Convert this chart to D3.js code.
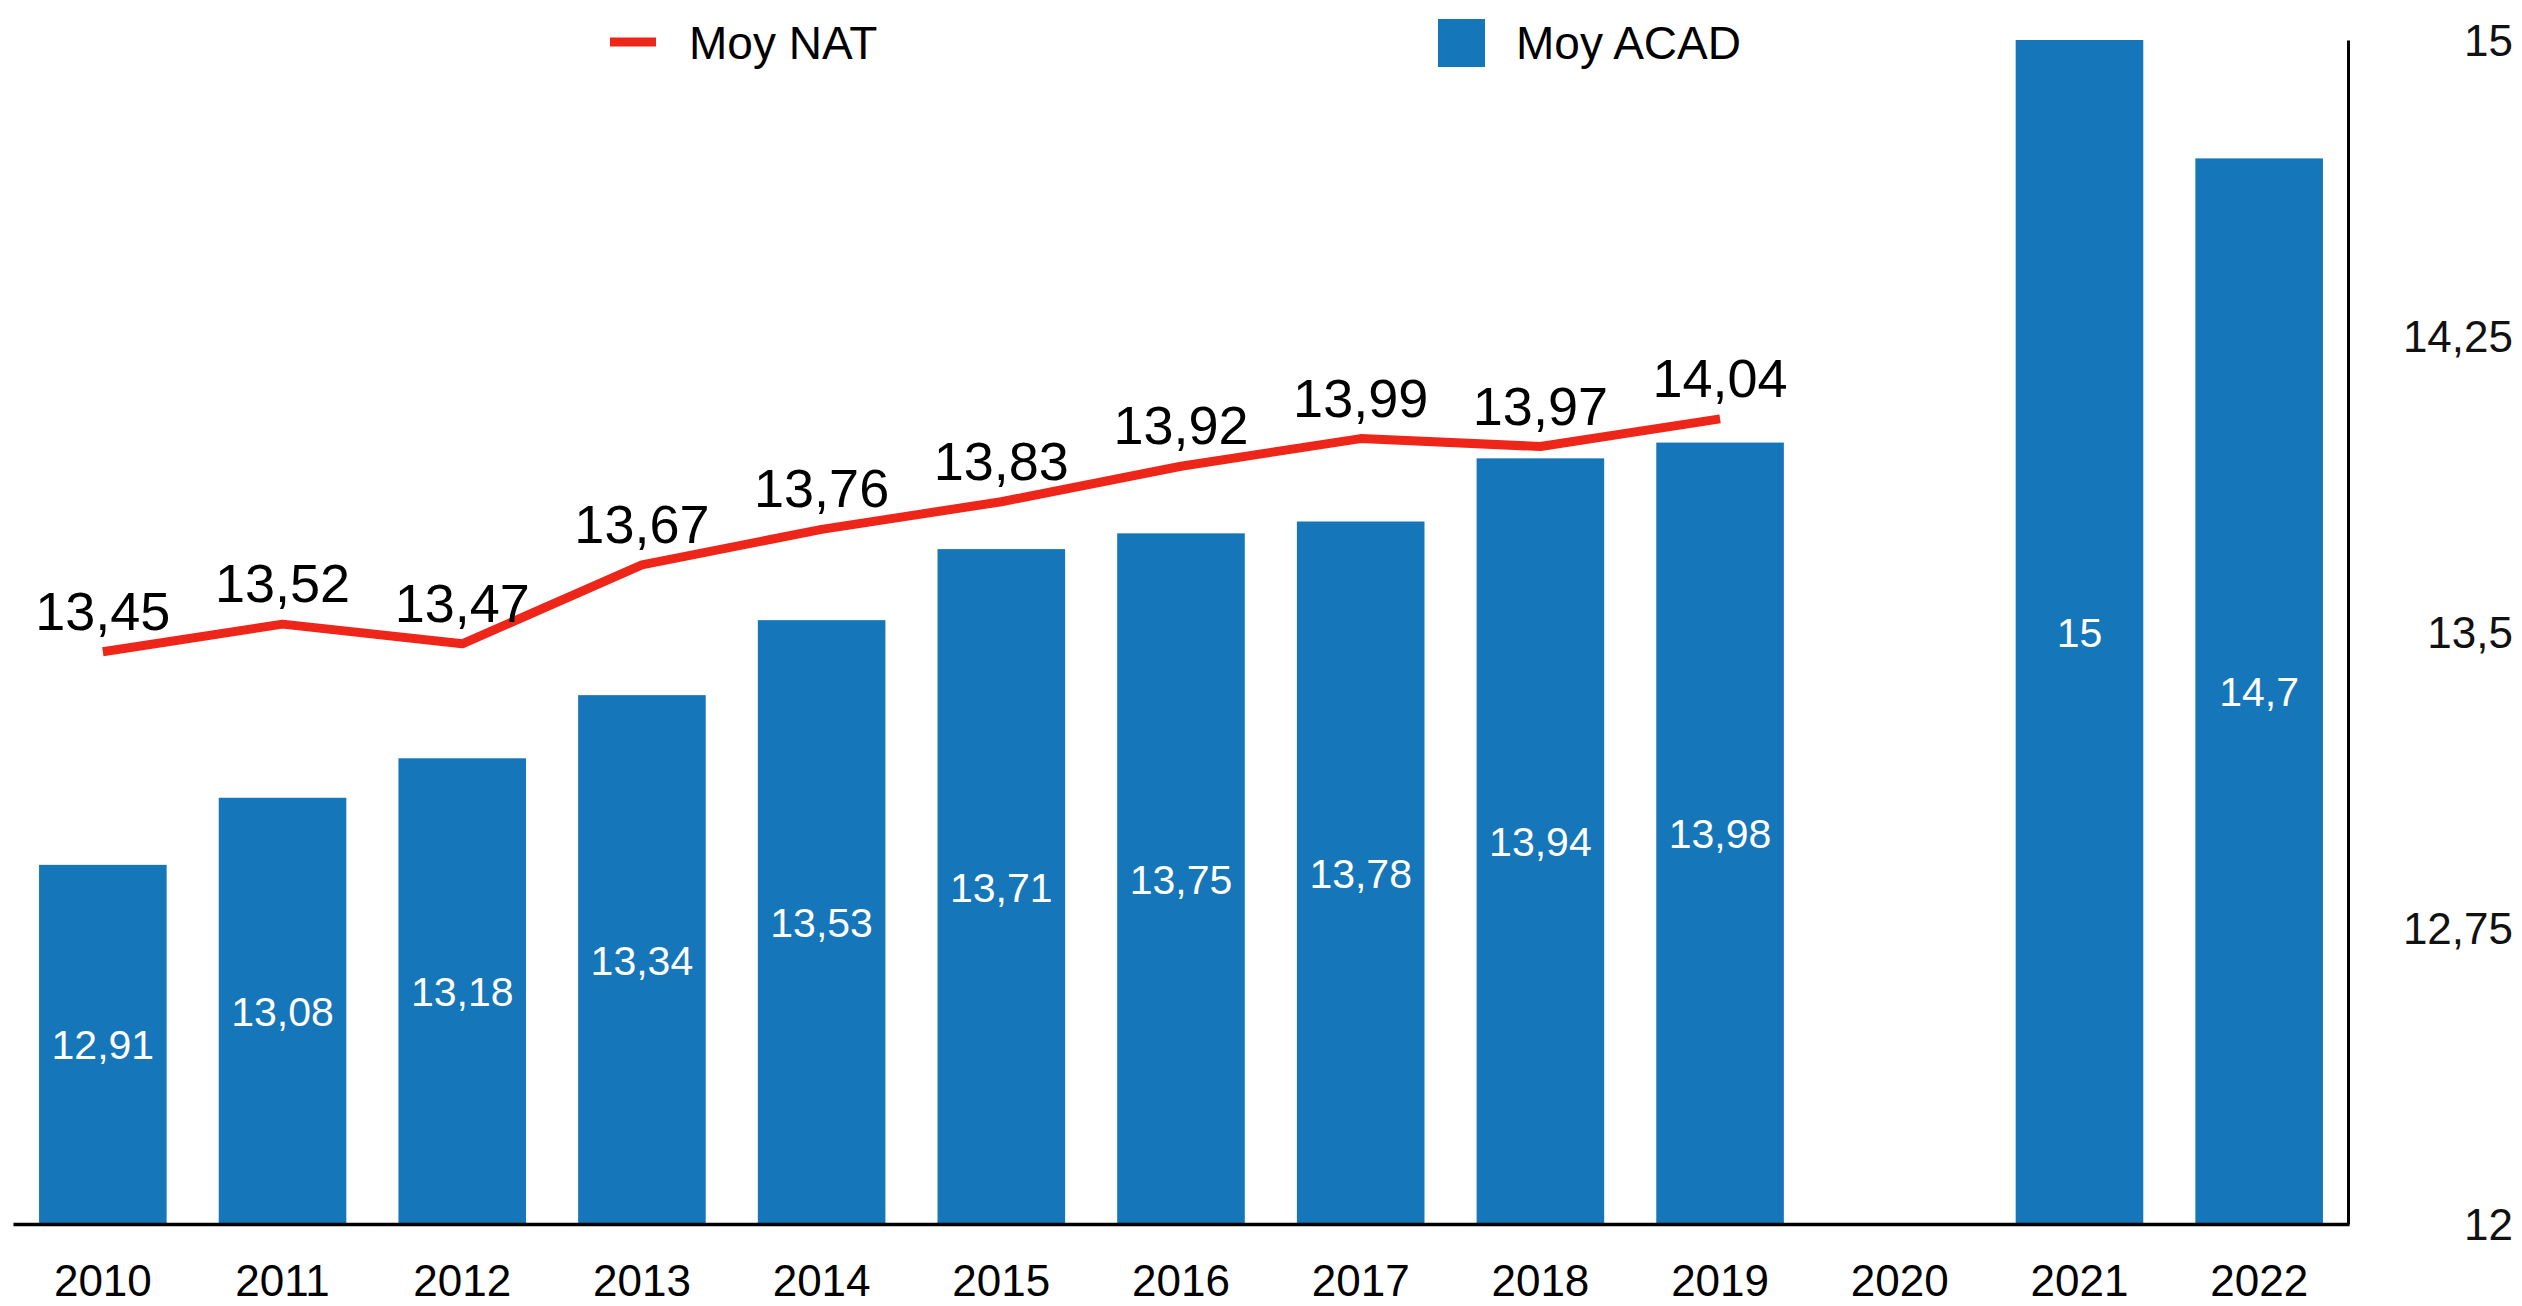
<!DOCTYPE html>
<html>
<head>
<meta charset="utf-8">
<script src="https://cdn.jsdelivr.net/npm/d3@7"></script>
<style>
  html, body { margin: 0; padding: 0; background: #fff; }
  svg { display: block; font-family: "Liberation Sans", Arial, Helvetica, sans-serif; }
</style>
</head>
<body>
<svg id="chart" width="2522" height="1306"></svg>
<script>
const years = ["2010","2011","2012","2013","2014","2015","2016","2017","2018","2019","2020","2021","2022"];
const moyAcad = [12.91, 13.08, 13.18, 13.34, 13.53, 13.71, 13.75, 13.78, 13.94, 13.98, null, 15, 14.7];
const moyNat = [13.45, 13.52, 13.47, 13.67, 13.76, 13.83, 13.92, 13.99, 13.97, 14.04, null, null, null];
const yTicks = [12, 12.75, 13.5, 14.25, 15];
const seriesNames = ["Moy NAT", "Moy ACAD"];

const BLUE = "#1576BA";
const RED = "#EE2519";
const fmt = v => String(v).replace(".", ",");

const svg = d3.select("#chart");

const x = d3.scaleBand().domain(years).range([13, 2349]).paddingInner(0.29).paddingOuter(0.145);
const y = d3.scaleLinear().domain([12, 15]).range([1224, 40]);

// Bars
const barData = years.map((yr, i) => ({ yr, v: moyAcad[i] })).filter(d => d.v != null);
svg.append("g").selectAll("rect").data(barData).join("rect")
  .attr("x", d => x(d.yr))
  .attr("y", d => y(d.v))
  .attr("width", x.bandwidth())
  .attr("height", d => y(12) - y(d.v))
  .attr("fill", BLUE);

// Bar labels
svg.append("g").selectAll("text").data(barData).join("text")
  .attr("x", d => x(d.yr) + x.bandwidth() / 2)
  .attr("y", d => (y(d.v) + y(12)) / 2 + 15)
  .attr("text-anchor", "middle")
  .attr("fill", "#fff")
  .attr("font-size", 41)
  .text(d => fmt(d.v));

// Axes
const xAxis = svg.append("g").attr("transform", `translate(0,${y(12)})`)
  .call(d3.axisBottom(x).tickSize(0).tickSizeOuter(0));
xAxis.select(".domain").attr("stroke", "#000").attr("stroke-width", 3.5);
xAxis.selectAll("text").attr("y", 72).attr("dy", 0).attr("font-size", 44)
  .attr("font-family", "Liberation Sans, Arial, sans-serif").attr("fill", "#000");

const yAxis = svg.append("g").attr("transform", `translate(2348,0)`)
  .call(d3.axisRight(y).tickValues(yTicks).tickSize(0).tickSizeOuter(0).tickFormat(fmt));
yAxis.select(".domain").attr("stroke", "#000").attr("stroke-width", 3);
yAxis.selectAll("text").attr("x", 165).attr("dy", "0.36em").attr("text-anchor", "end")
  .attr("font-size", 44).attr("font-family", "Liberation Sans, Arial, sans-serif").attr("fill", "#111");

// Line
const lineData = years.map((yr, i) => ({ yr, v: moyNat[i] })).filter(d => d.v != null);
const line = d3.line().x(d => x(d.yr) + x.bandwidth() / 2).y(d => y(d.v));
svg.append("path").datum(lineData)
  .attr("d", line)
  .attr("fill", "none")
  .attr("stroke", RED)
  .attr("stroke-width", 9)
  .attr("stroke-linejoin", "round");

svg.append("g").selectAll("text").data(lineData).join("text")
  .attr("x", d => x(d.yr) + x.bandwidth() / 2)
  .attr("y", d => y(d.v) - 22)
  .attr("text-anchor", "middle")
  .attr("fill", "#000")
  .attr("font-size", 54)
  .text(d => fmt(d.v));

// Legend
const leg = svg.append("g");
leg.append("line").attr("x1", 610).attr("x2", 656).attr("y1", 42).attr("y2", 42)
  .attr("stroke", RED).attr("stroke-width", 9);
leg.append("text").attr("x", 689).attr("y", 59).attr("font-size", 46).attr("fill", "#000").text(seriesNames[0]);
leg.append("rect").attr("x", 1438).attr("y", 19).attr("width", 47).attr("height", 48).attr("fill", BLUE);
leg.append("text").attr("x", 1516).attr("y", 59).attr("font-size", 46).attr("fill", "#000").text(seriesNames[1]);
</script>
</body>
</html>
